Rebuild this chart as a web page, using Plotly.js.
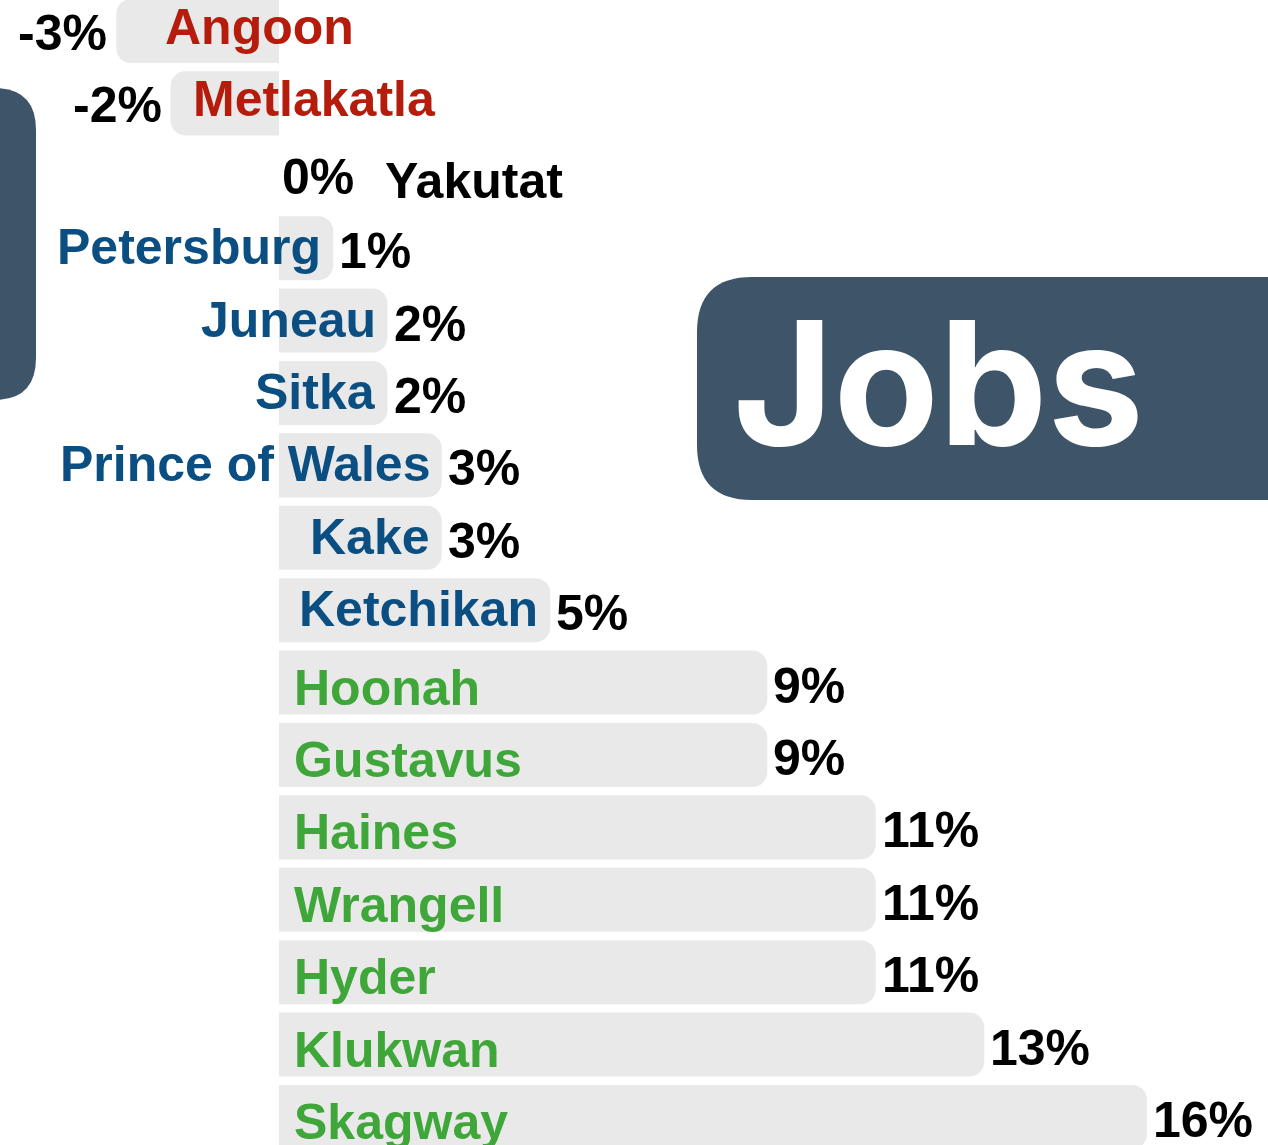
<!DOCTYPE html>
<html>
<head>
<meta charset="utf-8">
<script src="https://cdn.plot.ly/plotly-3.0.1.min.js"></script>
<style>html,body{margin:0;padding:0;background:#fff;overflow:hidden}#chart{width:1268px;height:1145px}</style>
</head>
<body>
<div id="chart"></div>
<script>
// ---- data ----
const towns = ['Angoon','Metlakatla','Yakutat','Petersburg','Juneau','Sitka','Prince of Wales','Kake','Ketchikan','Hoonah','Gustavus','Haines','Wrangell','Hyder','Klukwan','Skagway'];
const jobChange = [-3,-2,0,1,2,2,3,3,5,9,9,11,11,11,13,16];
const badgeText = 'Jobs';

// ---- styling ----
const W = 1268, H = 1145;
const RED = '#b51c0c', BLUE = '#0b4f82', GREEN = '#3fa63a', BLACK = '#000000';
const SLATE = '#3e5569', BARGRAY = '#e9e9e9';
const FONT = 'Liberation Sans, Arial, Helvetica, sans-serif';

function nameColor(v){ return v < 0 ? RED : (v === 0 ? BLACK : (v <= 5 ? BLUE : GREEN)); }

const annotations = [];
towns.forEach((t, i) => {
  const v = jobChange[i];
  const lbl = v + '%';
  if (v < 0) {
    annotations.push({x: v, y: t, xref:'x', yref:'y', text: lbl, showarrow:false,
      xanchor:'right', yanchor:'middle', xshift:-7, yshift:-2,
      font:{family:FONT, size:50, color:BLACK, weight:'bold'}});
    annotations.push({x: v, y: t, xref:'x', yref:'y', text: t, showarrow:false,
      xanchor:'left', yanchor:'middle', xshift: 20 + 27*(-v-2), yshift: 4,
      font:{family:FONT, size:50, color:nameColor(v), weight:'bold'}});
  } else if (v === 0) {
    annotations.push({x: v, y: t, xref:'x', yref:'y', text: lbl, showarrow:false,
      xanchor:'left', yanchor:'middle', xshift:1, yshift:-1,
      font:{family:FONT, size:50, color:BLACK, weight:'bold'}});
    annotations.push({x: v, y: t, xref:'x', yref:'y', text: t, showarrow:false,
      xanchor:'left', yanchor:'middle', xshift:104, yshift:-5,
      font:{family:FONT, size:50, color:nameColor(v), weight:'bold'}});
  } else {
    annotations.push({x: v, y: t, xref:'x', yref:'y', text: lbl, showarrow:false,
      xanchor:'left', yanchor:'middle', xshift:4, yshift:-3,
      font:{family:FONT, size:50, color:BLACK, weight:'bold'}});
    if (v <= 5) {
      annotations.push({x: v, y: t, xref:'x', yref:'y', text: t, showarrow:false,
        xanchor:'right', yanchor:'middle', xshift:-10, yshift:1,
        font:{family:FONT, size:50, color:nameColor(v), weight:'bold'}});
    } else {
      annotations.push({x: 0, y: t, xref:'x', yref:'y', text: t, showarrow:false,
        xanchor:'left', yanchor:'middle', xshift:13, yshift:-5,
        font:{family:FONT, size:50, color:nameColor(v), weight:'bold'}});
    }
  }
});

// rounded rectangle path in paper coordinates from pixel geometry
function px(x){ return (x / W).toFixed(5); }
function py(y){ return (1 - y / H).toFixed(5); }
function roundRect(x0, y0, x1, y1, r){
  return 'M' + px(x0 + r) + ',' + py(y0) +
    ' L' + px(x1 - r) + ',' + py(y0) +
    ' Q' + px(x1) + ',' + py(y0) + ' ' + px(x1) + ',' + py(y0 + r) +
    ' L' + px(x1) + ',' + py(y1 - r) +
    ' Q' + px(x1) + ',' + py(y1) + ' ' + px(x1 - r) + ',' + py(y1) +
    ' L' + px(x0 + r) + ',' + py(y1) +
    ' Q' + px(x0) + ',' + py(y1) + ' ' + px(x0) + ',' + py(y1 - r) +
    ' L' + px(x0) + ',' + py(y0 + r) +
    ' Q' + px(x0) + ',' + py(y0) + ' ' + px(x0 + r) + ',' + py(y0) + ' Z';
}

const shapes = [
  {type:'path', xref:'paper', yref:'paper', path: roundRect(697, 277, 1400, 500, 55),
   fillcolor: SLATE, line:{width:0}, layer:'above'},
  {type:'path', xref:'paper', yref:'paper', path: roundRect(-150, 88, 36, 400, 42),
   fillcolor: SLATE, line:{width:0}, layer:'above'}
];

annotations.push({xref:'paper', yref:'paper', x: Number(px(731)), y: Number(py(382)), text: badgeText,
  showarrow:false, xanchor:'left', yanchor:'middle',
  font:{family:'Inter, Lato, sans-serif', size:172, color:'#ffffff', weight:'bold'}});

const trace = {
  type:'bar', orientation:'h', x: jobChange, y: towns,
  marker:{color: BARGRAY, cornerradius: 15, line:{width:0}},
  hoverinfo:'skip', textposition:'none'
};

const layout = {
  width: W, height: H,
  margin:{l:0, r:0, t:0, b:0, pad:0},
  paper_bgcolor:'#ffffff', plot_bgcolor:'#ffffff',
  showlegend:false,
  bargap: 0.115,
  xaxis:{range:[-5.143, 18.23], showgrid:false, zeroline:false, showticklabels:false, ticks:'', showline:false, fixedrange:true},
  yaxis:{type:'category', categoryorder:'array', categoryarray: towns, range:[15.387, -0.428],
         showgrid:false, zeroline:false, showticklabels:false, ticks:'', showline:false, fixedrange:true},
  shapes: shapes,
  annotations: annotations
};

Plotly.newPlot('chart', [trace], layout, {displayModeBar:false, staticPlot:true});
</script>
</body>
</html>
